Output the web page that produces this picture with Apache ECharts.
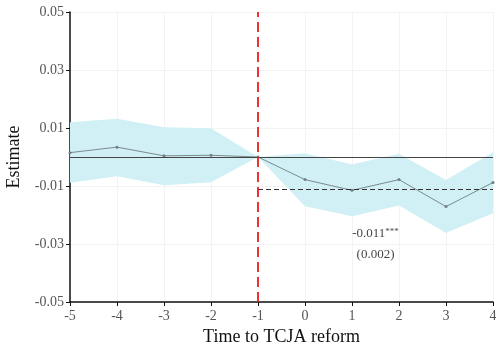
<!DOCTYPE html>
<html>
<head>
<meta charset="utf-8">
<script src="https://cdn.jsdelivr.net/npm/echarts@6/dist/echarts.min.js"></script>
<style>html,body{margin:0;padding:0;background:#fff}#c{width:496px;height:345px}</style>
</head>
<body>
<div id="c"></div>
<script>
var periods = [-5, -4, -3, -2, -1, 0, 1, 2, 3, 4];
var estimates = [0.0015, 0.0034, 0.0004, 0.0006, 0, -0.0078, -0.0115, -0.0078, -0.0171, -0.0088];
var upperCI = [0.0120, 0.0132, 0.0103, 0.0099, 0, 0.0013, -0.0026, 0.0011, -0.0079, 0.0016];
var lowerCI = [-0.0089, -0.0066, -0.0097, -0.0087, 0, -0.0170, -0.0204, -0.0167, -0.0262, -0.0194];
var yTicks = [-0.05, -0.03, -0.01, 0.01, 0.03, 0.05];
var avgEffect = -0.011;
var avgLabel = '-0.011';
var avgStars = '***';
var avgSE = '(0.002)';
var eventTime = -1;

var FONT = '"Liberation Serif", "DejaVu Serif", serif';
var chart = echarts.init(document.getElementById('c'), null, {renderer: 'canvas'});

var bandData = periods.map(function (p, i) { return [p, lowerCI[i], upperCI[i]]; });

chart.setOption({
  animation: false,
  grid: {left: 70, right: 3, top: 12, bottom: 43, containLabel: false, outerBoundsMode: 'none'},
  xAxis: {
    type: 'value', min: -5, max: 4, interval: 1,
    name: 'Time to TCJA reform', nameLocation: 'middle', nameGap: 26,
    nameTextStyle: {fontFamily: FONT, fontSize: 18, color: '#111'},
    axisLine: {show: true, onZero: false, lineStyle: {color: '#111', width: 1.5}},
    axisTick: {show: true, length: 4, lineStyle: {color: '#111', width: 1}},
    axisLabel: {fontFamily: FONT, fontSize: 14, color: '#555', margin: 7},
    splitLine: {show: true, lineStyle: {color: '#f3f3f3', width: 1}}
  },
  yAxis: {
    type: 'value', min: yTicks[0], max: yTicks[yTicks.length - 1], interval: 0.02,
    name: 'Estimate', nameLocation: 'middle', nameGap: 47,
    nameTextStyle: {fontFamily: FONT, fontSize: 18, color: '#111'},
    axisLine: {show: true, onZero: false, lineStyle: {color: '#111', width: 1.5}},
    axisTick: {show: true, length: 4, lineStyle: {color: '#111', width: 1}},
    axisLabel: {fontFamily: FONT, fontSize: 14, color: '#555', margin: 6,
      formatter: function (v) { return v.toFixed(2); }},
    splitLine: {show: true, lineStyle: {color: '#f3f3f3', width: 1}}
  },
  series: [
    {
      type: 'custom',
      data: bandData,
      z: 1,
      renderItem: function (params, api) {
        if (params.dataIndex !== 0) return null;
        var pts = [];
        for (var i = 0; i < bandData.length; i++) pts.push(api.coord([bandData[i][0], bandData[i][2]]));
        for (var j = bandData.length - 1; j >= 0; j--) pts.push(api.coord([bandData[j][0], bandData[j][1]]));
        return {type: 'polygon', shape: {points: pts}, style: {fill: '#d1f0f5', stroke: null}};
      },
      silent: true
    },
    {
      type: 'line',
      data: periods.map(function (p, i) { return [p, estimates[i]]; }),
      z: 3,
      symbol: 'circle', symbolSize: 3,
      itemStyle: {color: '#6f7f82'},
      lineStyle: {color: '#7a8a8d', width: 1},
      markLine: {
        silent: true, symbol: 'none', animation: false,
        label: {show: false},
        data: [
          [{coord: [-5, 0], lineStyle: {color: '#444', width: 1, type: 'solid'}}, {coord: [4, 0]}],
          [{coord: [eventTime, avgEffect], lineStyle: {color: '#333', width: 1, type: [5, 3]}}, {coord: [4, avgEffect]}],
          [{coord: [eventTime, yTicks[0]], lineStyle: {color: '#ee1c1c', width: 1.8, type: [10, 5]}}, {coord: [eventTime, yTicks[yTicks.length - 1]]}]
        ]
      }
    },
    {
      type: 'scatter',
      data: [[1.5, -0.0265, 0], [1.5, -0.0338, 1]],
      symbolSize: 0,
      z: 4,
      silent: true,
      label: {
        show: true, position: 'inside',
        fontFamily: FONT, fontSize: 13, color: '#111',
        formatter: function (p) {
          return p.data[2] === 0 ? avgLabel + '{s|' + avgStars + '}' : avgSE;
        },
        rich: {s: {fontFamily: FONT, fontSize: 9, color: '#111', verticalAlign: 'top', padding: [0, 0, 4, 0]}}
      }
    }
  ]
});
</script>
</body>
</html>
